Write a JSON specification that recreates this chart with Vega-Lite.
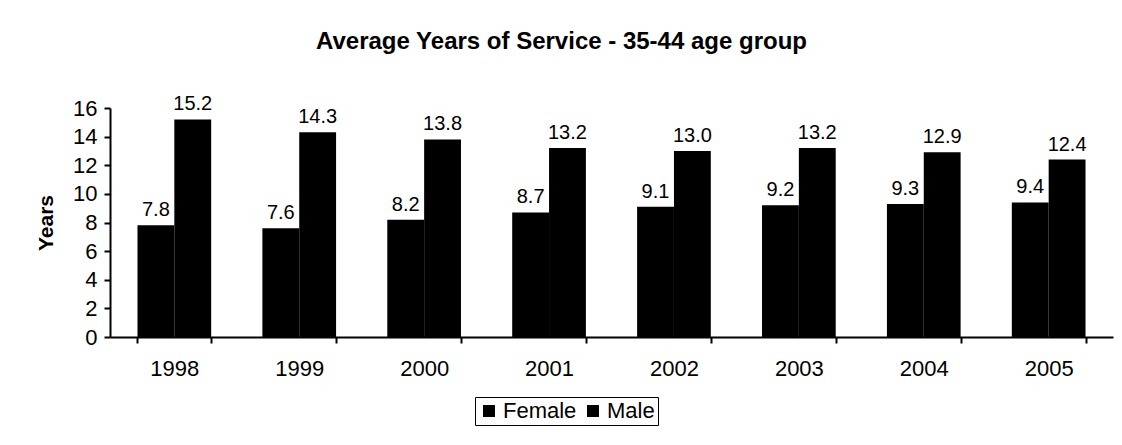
{
  "$schema": "https://vega.github.io/schema/vega-lite/v6.json",
  "autosize": "none",
  "width": 1003,
  "height": 229,
  "padding": {"left": 110, "top": 108, "right": 9, "bottom": 108},
  "background": "white",
  "title": {
    "text": "Average Years of Service - 35-44 age group",
    "font": "Liberation Sans",
    "fontSize": 24,
    "fontWeight": "bold",
    "color": "black",
    "anchor": "middle",
    "frame": "group",
    "dx": -50,
    "offset": 40
  },
  "data": {
    "values": [
      {"year": "1998", "sex": "Female", "value": 7.8},
      {"year": "1998", "sex": "Male", "value": 15.2},
      {"year": "1999", "sex": "Female", "value": 7.6},
      {"year": "1999", "sex": "Male", "value": 14.3},
      {"year": "2000", "sex": "Female", "value": 8.2},
      {"year": "2000", "sex": "Male", "value": 13.8},
      {"year": "2001", "sex": "Female", "value": 8.7},
      {"year": "2001", "sex": "Male", "value": 13.2},
      {"year": "2002", "sex": "Female", "value": 9.1},
      {"year": "2002", "sex": "Male", "value": 13.0},
      {"year": "2003", "sex": "Female", "value": 9.2},
      {"year": "2003", "sex": "Male", "value": 13.2},
      {"year": "2004", "sex": "Female", "value": 9.3},
      {"year": "2004", "sex": "Male", "value": 12.9},
      {"year": "2005", "sex": "Female", "value": 9.4},
      {"year": "2005", "sex": "Male", "value": 12.4}
    ]
  },
  "encoding": {
    "x": {
      "field": "year",
      "type": "nominal",
      "scale": {"paddingInner": 0.41, "paddingOuter": 0.22},
      "axis": {
        "title": null,
        "labelAngle": 0,
        "labelFont": "Liberation Sans",
        "labelFontSize": 22,
        "labelColor": "black",
        "labelPadding": 15,
        "tickBand": "extent",
        "tickSize": 6,
        "tickWidth": 2,
        "tickColor": "black",
        "domainColor": "black",
        "domainWidth": 2
      }
    },
    "xOffset": {"field": "sex", "type": "nominal", "scale": {"paddingInner": 0, "paddingOuter": 0}},
    "y": {
      "field": "value",
      "type": "quantitative",
      "scale": {"domain": [0, 16], "nice": false},
      "axis": {
        "title": "Years",
        "titleFont": "Liberation Sans",
        "titleFontSize": 21,
        "titleFontWeight": "bold",
        "titleColor": "black",
        "titlePadding": 16,
        "values": [0, 2, 4, 6, 8, 10, 12, 14, 16],
        "grid": false,
        "labelFont": "Liberation Sans",
        "labelFontSize": 22,
        "labelColor": "black",
        "labelPadding": 7,
        "tickSize": 6,
        "tickWidth": 2,
        "tickColor": "black",
        "domainColor": "black",
        "domainWidth": 2
      }
    }
  },
  "layer": [
    {
      "mark": {"type": "bar"},
      "encoding": {
        "color": {
          "field": "sex",
          "type": "nominal",
          "scale": {"domain": ["Female", "Male"], "range": ["black", "black"]},
          "legend": {
            "title": null,
            "orient": "none",
            "direction": "horizontal",
            "legendX": 365,
            "legendY": 289,
            "strokeColor": "black",
            "padding": 3,
            "symbolType": "square",
            "symbolSize": 110,
            "symbolFillColor": "black",
            "symbolStrokeColor": "black",
            "labelFont": "Liberation Sans",
            "labelFontSize": 22,
            "labelColor": "black",
            "labelOffset": 3,
            "columnPadding": 5
          }
        }
      }
    },
    {
      "mark": {
        "type": "text",
        "baseline": "bottom",
        "dy": -5,
        "font": "Liberation Sans",
        "fontSize": 20,
        "color": "black"
      },
      "encoding": {
        "text": {"field": "value", "type": "quantitative", "format": ".1f"}
      }
    }
  ],
  "config": {
    "view": {"stroke": null}
  }
}
